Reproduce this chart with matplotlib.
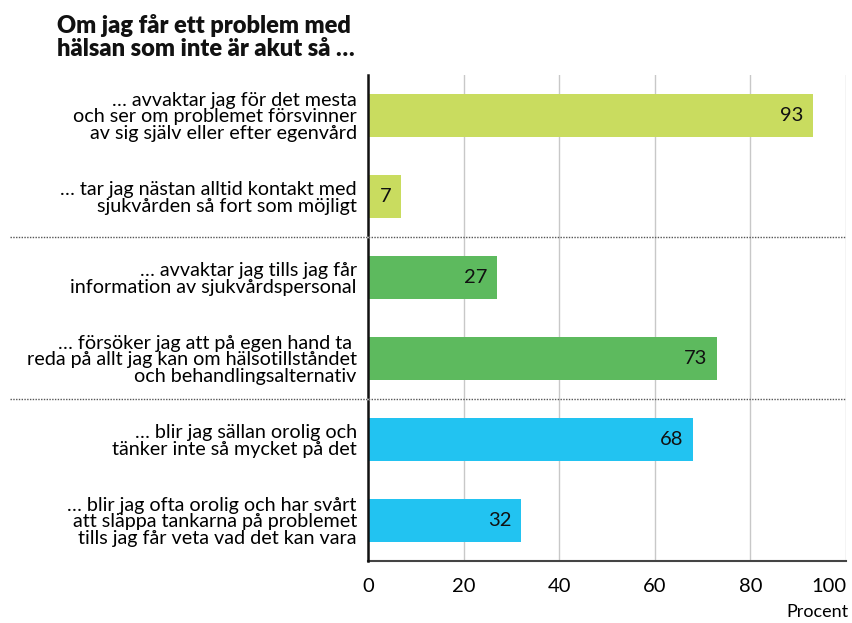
import matplotlib.pyplot as plt
from matplotlib.lines import Line2D

# Data
labels = [
    "… avvaktar jag för det mesta\noch ser om problemet försvinner\nav sig själv eller efter egenvård",
    "… tar jag nästan alltid kontakt med\nsjukvården så fort som möjligt",
    "… avvaktar jag tills jag får\ninformation av sjukvårdspersonal",
    "… försöker jag att på egen hand ta \nreda på allt jag kan om hälsotillståndet\noch behandlingsalternativ",
    "… blir jag sällan orolig och\ntänker inte så mycket på det",
    "… blir jag ofta orolig och har svårt\natt släppa tankarna på problemet\ntills jag får veta vad det kan vara",
]
values = [93, 7, 27, 73, 68, 32]
colors = ["#c9dc5f", "#c9dc5f", "#5dba5e", "#5dba5e", "#22c3f1", "#22c3f1"]
title = "Om jag får ett problem med\nhälsan som inte är akut så …"
xticks = [0, 20, 40, 60, 80, 100]

plt.rcParams['font.family'] = ['Lato', 'DejaVu Sans']

fig = plt.figure(figsize=(8.53, 6.23), dpi=100)
ax = fig.add_axes([0.4314, 0.0995, 0.5604, 0.7801])

pos = list(range(len(values)))
ax.barh(pos, values, height=0.52, color=colors, zorder=3)
ax.set_ylim(5.5, -0.5)
ax.set_xlim(0, 100)

# Value labels inside the bar ends
for p, v in zip(pos, values):
    ax.text(v - 2, p, str(v), ha="right", va="center", fontsize=14.5, color="#111111", zorder=4)

# Category labels
ax.set_yticks(pos)
ax.set_yticklabels(labels, fontsize=14.2, linespacing=0.97)
ax.tick_params(axis="y", length=0, pad=8)

ax.set_xticks(xticks)
ax.set_xticklabels([str(t) for t in xticks], fontsize=14.5)
ax.get_xticklabels()[-1].set_horizontalalignment("right")
ax.tick_params(axis="x", length=0, pad=12)
ax.grid(axis="x", color="#c8c8c8", linewidth=1, zorder=0)

for s in ["top", "right", "left"]:
    ax.spines[s].set_visible(False)
ax.spines["bottom"].set_color("#444444")
ax.spines["bottom"].set_linewidth(1.5)

# Left axis drawn in segments between the group separators
segments = [(-0.5, 1.47), (1.53, 3.47), (3.53, 5.5)]
for y0, y1 in segments:
    ax.plot([0, 0], [y0, y1], color="#111111", linewidth=1.8, zorder=5, clip_on=False)

# Dotted separators across the whole width
for ysep in [1.5, 3.5]:
    yfig = fig.transFigure.inverted().transform(ax.transData.transform((0, ysep)))[1]
    fig.add_artist(Line2D([0.012, 0.992], [yfig, yfig], color="#555555",
                          linewidth=1, linestyle=(0, (1, 1))))

fig.text(0.067, 0.978, title, ha="left", va="top", fontsize=17, fontweight="heavy",
         linespacing=1.08, color="#111111")
fig.text(0.995, 0.005, "Procent", ha="right", va="bottom", fontsize=13)

fig.savefig("out.png", dpi=100)
